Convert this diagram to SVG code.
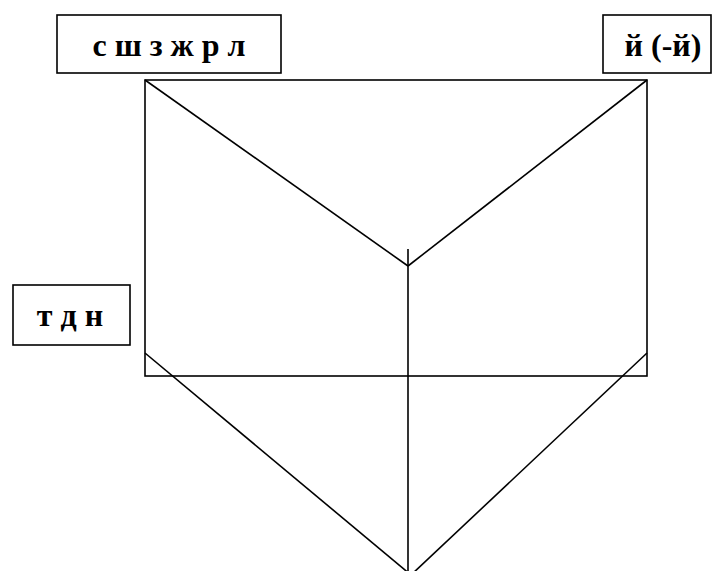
<svg xmlns="http://www.w3.org/2000/svg" width="720" height="571" viewBox="0 0 720 571">
<style>
.box{fill:#fff;stroke:#000;stroke-width:1.6}
.ln{fill:none;stroke:#000;stroke-width:1.6}
.t{font-family:"Liberation Serif","Times New Roman",serif;font-weight:bold;font-size:32px;fill:#000;text-anchor:middle}
</style>
<rect x="0" y="0" width="720" height="571" fill="#fff"/>
<g id="connectors">
<rect class="ln" x="145" y="80" width="502" height="296"/>
<line class="ln" x1="145" y1="80" x2="408" y2="266"/>
<line class="ln" x1="647" y1="80" x2="408" y2="266"/>
<line class="ln" x1="408" y1="249" x2="408" y2="575"/>
<line class="ln" x1="145" y1="353" x2="411" y2="575"/>
<line class="ln" x1="647" y1="353" x2="411" y2="575"/>
</g>
<g id="node1">
<rect class="box" x="57" y="15" width="224" height="58"/>
<text class="t" x="169" y="56">с ш з ж р л</text>
</g>
<g id="node2">
<rect class="box" x="603" y="15" width="108" height="58"/>
<text class="t" x="663" y="56">й (-й)</text>
</g>
<g id="node3">
<rect class="box" x="13" y="285" width="117" height="60"/>
<text class="t" x="70" y="326">т д н</text>
</g>
</svg>
